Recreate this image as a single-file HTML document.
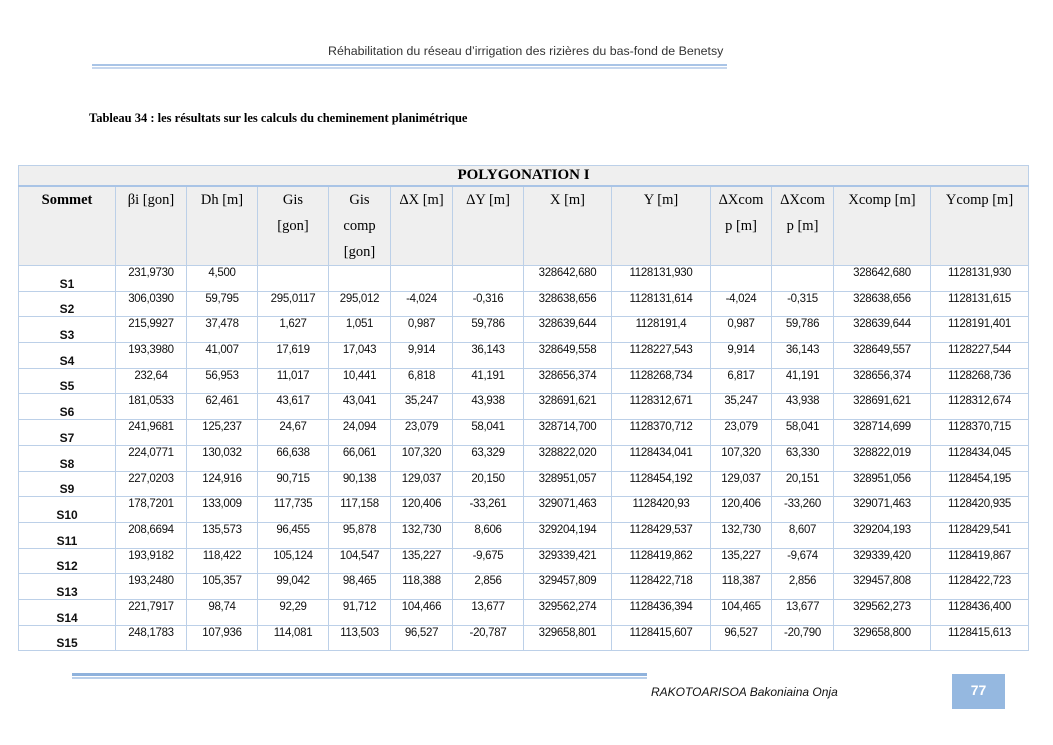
<!DOCTYPE html>
<html><head><meta charset="utf-8"><style>
body{margin:0;width:1053px;height:745px;background:#fff;position:relative;overflow:hidden;font-family:"Liberation Sans",sans-serif}
.hdr{position:absolute;left:0;width:1053px;top:44px;font-size:12.4px;color:#333}
.hdr span{position:absolute;left:328px;white-space:nowrap}
.l1{position:absolute;left:92px;width:635px;top:64px;height:2px;background:#a9c4e6}
.l2{position:absolute;left:92px;width:635px;top:67px;height:2px;background:#c6d7ee}
.cap{position:absolute;left:89px;top:111px;font:bold 12.5px "Liberation Serif",serif}
table{position:absolute;left:18px;top:165px;border-collapse:collapse;table-layout:fixed;width:1011px}
td{border:1px solid #bcd0e8;padding:0;overflow:hidden}
.t td{background:#efefef;height:19px;font:bold 15px "Liberation Serif",serif;text-align:center;border-bottom:2px solid #a9c4e6}
.h td{background:#efefef;height:78px;vertical-align:top;text-align:center;font:14.5px/26px "Liberation Serif",serif}
.h td.s{font-weight:bold}
.d td{height:23.7px;text-align:center;vertical-align:top;font:11.5px "Liberation Sans",sans-serif;letter-spacing:-0.3px;padding-top:1px;color:#111}
.d td.s{font-weight:bold;vertical-align:bottom;padding-top:0;font-size:12px;letter-spacing:0}
.f1{position:absolute;left:72px;width:575px;top:673px;height:3px;background:#8fb2dc}
.f2{position:absolute;left:72px;width:575px;top:677px;height:2px;background:#b9cfea}
.auth{position:absolute;left:651px;top:685px;font:italic 12px "Liberation Sans",sans-serif;color:#111}
.pg{position:absolute;left:952px;top:674px;width:53px;height:35px;background:#95b8e0;color:#fff;font:bold 14px "Liberation Sans",sans-serif;text-align:center;line-height:33px}
</style></head><body>
<div class="hdr"><span>Réhabilitation du réseau d’irrigation des rizières du bas-fond de Benetsy</span></div>
<div class="l1"></div><div class="l2"></div>
<div class="cap">Tableau 34 : les résultats sur les calculs du cheminement planimétrique</div>
<table>
<colgroup><col style="width:97px"><col style="width:71px"><col style="width:71px"><col style="width:71px"><col style="width:62px"><col style="width:62px"><col style="width:71px"><col style="width:88px"><col style="width:99px"><col style="width:61px"><col style="width:62px"><col style="width:97px"><col style="width:98px"></colgroup>
<tr class="t"><td colspan="13">POLYGONATION I</td></tr>
<tr class="h"><td class="s">Sommet</td><td>βi [gon]</td><td>Dh [m]</td><td>Gis<br>[gon]</td><td>Gis<br>comp<br>[gon]</td><td>ΔX [m]</td><td>ΔY [m]</td><td>X [m]</td><td>Y [m]</td><td>ΔXcom<br>p [m]</td><td>ΔXcom<br>p [m]</td><td>Xcomp [m]</td><td>Ycomp [m]</td></tr>
<tr class="d"><td class="s">S1</td><td>231,9730</td><td>4,500</td><td></td><td></td><td></td><td></td><td>328642,680</td><td>1128131,930</td><td></td><td></td><td>328642,680</td><td>1128131,930</td></tr>
<tr class="d"><td class="s">S2</td><td>306,0390</td><td>59,795</td><td>295,0117</td><td>295,012</td><td>-4,024</td><td>-0,316</td><td>328638,656</td><td>1128131,614</td><td>-4,024</td><td>-0,315</td><td>328638,656</td><td>1128131,615</td></tr>
<tr class="d"><td class="s">S3</td><td>215,9927</td><td>37,478</td><td>1,627</td><td>1,051</td><td>0,987</td><td>59,786</td><td>328639,644</td><td>1128191,4</td><td>0,987</td><td>59,786</td><td>328639,644</td><td>1128191,401</td></tr>
<tr class="d"><td class="s">S4</td><td>193,3980</td><td>41,007</td><td>17,619</td><td>17,043</td><td>9,914</td><td>36,143</td><td>328649,558</td><td>1128227,543</td><td>9,914</td><td>36,143</td><td>328649,557</td><td>1128227,544</td></tr>
<tr class="d"><td class="s">S5</td><td>232,64</td><td>56,953</td><td>11,017</td><td>10,441</td><td>6,818</td><td>41,191</td><td>328656,374</td><td>1128268,734</td><td>6,817</td><td>41,191</td><td>328656,374</td><td>1128268,736</td></tr>
<tr class="d"><td class="s">S6</td><td>181,0533</td><td>62,461</td><td>43,617</td><td>43,041</td><td>35,247</td><td>43,938</td><td>328691,621</td><td>1128312,671</td><td>35,247</td><td>43,938</td><td>328691,621</td><td>1128312,674</td></tr>
<tr class="d"><td class="s">S7</td><td>241,9681</td><td>125,237</td><td>24,67</td><td>24,094</td><td>23,079</td><td>58,041</td><td>328714,700</td><td>1128370,712</td><td>23,079</td><td>58,041</td><td>328714,699</td><td>1128370,715</td></tr>
<tr class="d"><td class="s">S8</td><td>224,0771</td><td>130,032</td><td>66,638</td><td>66,061</td><td>107,320</td><td>63,329</td><td>328822,020</td><td>1128434,041</td><td>107,320</td><td>63,330</td><td>328822,019</td><td>1128434,045</td></tr>
<tr class="d"><td class="s">S9</td><td>227,0203</td><td>124,916</td><td>90,715</td><td>90,138</td><td>129,037</td><td>20,150</td><td>328951,057</td><td>1128454,192</td><td>129,037</td><td>20,151</td><td>328951,056</td><td>1128454,195</td></tr>
<tr class="d"><td class="s">S10</td><td>178,7201</td><td>133,009</td><td>117,735</td><td>117,158</td><td>120,406</td><td>-33,261</td><td>329071,463</td><td>1128420,93</td><td>120,406</td><td>-33,260</td><td>329071,463</td><td>1128420,935</td></tr>
<tr class="d"><td class="s">S11</td><td>208,6694</td><td>135,573</td><td>96,455</td><td>95,878</td><td>132,730</td><td>8,606</td><td>329204,194</td><td>1128429,537</td><td>132,730</td><td>8,607</td><td>329204,193</td><td>1128429,541</td></tr>
<tr class="d"><td class="s">S12</td><td>193,9182</td><td>118,422</td><td>105,124</td><td>104,547</td><td>135,227</td><td>-9,675</td><td>329339,421</td><td>1128419,862</td><td>135,227</td><td>-9,674</td><td>329339,420</td><td>1128419,867</td></tr>
<tr class="d"><td class="s">S13</td><td>193,2480</td><td>105,357</td><td>99,042</td><td>98,465</td><td>118,388</td><td>2,856</td><td>329457,809</td><td>1128422,718</td><td>118,387</td><td>2,856</td><td>329457,808</td><td>1128422,723</td></tr>
<tr class="d"><td class="s">S14</td><td>221,7917</td><td>98,74</td><td>92,29</td><td>91,712</td><td>104,466</td><td>13,677</td><td>329562,274</td><td>1128436,394</td><td>104,465</td><td>13,677</td><td>329562,273</td><td>1128436,400</td></tr>
<tr class="d"><td class="s">S15</td><td>248,1783</td><td>107,936</td><td>114,081</td><td>113,503</td><td>96,527</td><td>-20,787</td><td>329658,801</td><td>1128415,607</td><td>96,527</td><td>-20,790</td><td>329658,800</td><td>1128415,613</td></tr>
</table>
<div class="f1"></div><div class="f2"></div>
<div class="auth">RAKOTOARISOA Bakoniaina Onja</div>
<div class="pg">77</div>
</body></html>
